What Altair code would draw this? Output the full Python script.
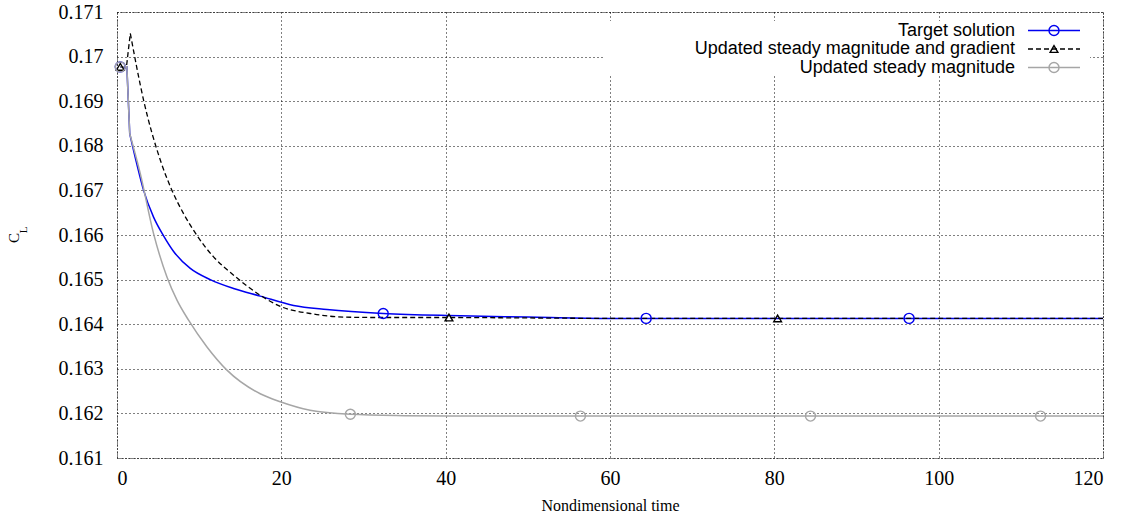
import altair as alt
import pandas as pd

# ---- series data -------------------------------------------------------
# Target solution: start-up part (plateau and sudden drop) and relaxation part
t_target_a = [0.4, 1.2, 1.55]
cl_target_a = [0.16977, 0.16977, 0.16827]
t_target_b = [1.55, 2.4, 3.24, 4.45, 5.67, 6.89, 8.92, 11.35, 14.19,
              17.43, 21.49, 25.55, 32.4, 41.8, 50.0, 58.8, 70.0, 90.0, 120.0]
cl_target_b = [0.16827, 0.16760, 0.16700, 0.16640, 0.16598, 0.16563,
               0.16525, 0.16500, 0.16480, 0.16463, 0.16442, 0.16433,
               0.16424, 0.16419, 0.16416, 0.16413, 0.16413, 0.16413, 0.16413]
mk_t_target = [0.4, 32.4, 64.4, 96.4]
mk_cl_target = [0.16977, 0.16424, 0.16413, 0.16413]

# Updated steady magnitude and gradient: overshoot, then relaxation
t_grad_a = [0.4, 1.15, 1.62]
cl_grad_a = [0.16977, 0.16977, 0.17052]
t_grad_b = [1.62, 3.24, 5.27, 6.69, 8.1, 9.73, 11.75, 14.19, 17.43,
            19.87, 23.5, 27.6, 32.0, 40.4, 50.0, 60.0, 120.0]
cl_grad_b = [0.17052, 0.16902, 0.16768, 0.16700, 0.16648, 0.16599, 0.16551,
             0.16510, 0.16465, 0.16440, 0.16424, 0.16416, 0.16415, 0.16415,
             0.16414, 0.16413, 0.16413]
mk_t_grad = [0.4, 40.4, 80.4]
mk_cl_grad = [0.16977, 0.16415, 0.16413]

# Updated steady magnitude
t_mag_a = [0.4, 1.2, 1.55]
cl_mag_a = [0.16977, 0.16977, 0.16827]
t_mag_b = [1.55, 2.83, 4.45, 6.08, 7.3, 8.71, 10.95, 13.38, 17.43,
           19.87, 23.5, 28.4, 35.0, 41.8, 60.0, 120.0]
cl_mag_b = [0.16827, 0.16738, 0.16603, 0.16506, 0.16454, 0.16409, 0.16349,
            0.16297, 0.16244, 0.16226, 0.16207, 0.16198, 0.16195, 0.16194,
            0.16194, 0.16194]
mk_t_mag = [0.4, 28.4, 56.4, 84.4, 112.4]
mk_cl_mag = [0.16977, 0.16198, 0.16194, 0.16194, 0.16194]

x_ticks = [0, 20, 40, 60, 80, 100, 120]
y_ticks = [0.161, 0.162, 0.163, 0.164, 0.165, 0.166, 0.167, 0.168, 0.169, 0.170, 0.171]

legend_labels = ["Target solution", "Updated steady magnitude and gradient",
                 "Updated steady magnitude"]

BLUE = "#0000f0"
BLACK = "#000000"
GRAY = "#a6a6a6"
SERIF = "Liberation Serif"
SANS = "Liberation Sans"

W, H = 986, 446

xs = alt.Scale(domain=[0, 120], nice=False, zero=False)
ys = alt.Scale(domain=[0.161, 0.171], nice=False, zero=False)

x_axis = alt.Axis(values=x_ticks, format="d", grid=True, gridColor="black",
                  gridDash=[1, 3], gridOpacity=1, domain=False, ticks=False,
                  labelFont=SERIF, labelFontSize=20, labelColor="black",
                  labelPadding=10, title="Nondimensional time",
                  titleFont=SERIF, titleFontSize=16, titleFontWeight="normal",
                  titleColor="black", titlePadding=9)
y_axis = alt.Axis(values=y_ticks, format=".3~f", grid=True, gridColor="black",
                  gridDash=[1, 3], gridOpacity=1, domain=False, ticks=False,
                  labelFont=SERIF, labelFontSize=20, labelColor="black",
                  labelPadding=14, title=None)

X = alt.X("t:Q", scale=xs, axis=x_axis)
Y = alt.Y("cl:Q", scale=ys, axis=y_axis)


def line_layer(t, v, color, width, dash=None, interp="linear"):
    df = pd.DataFrame({"t": t, "cl": v})
    kw = dict(color=color, strokeWidth=width, clip=True, interpolate=interp)
    if dash:
        kw["strokeDash"] = dash
    return alt.Chart(df).mark_line(**kw).encode(x=X, y=Y)


def marker_layer(t, v, color, shape, size):
    df = pd.DataFrame({"t": t, "cl": v})
    return alt.Chart(df).mark_point(shape=shape, filled=False, color=color,
                                    size=size, strokeWidth=1.4, opacity=1).encode(x=X, y=Y)


DASH = [5, 3]
layers = [
    line_layer(t_target_a, cl_target_a, BLUE, 1.5),
    line_layer(t_target_b, cl_target_b, BLUE, 1.5, interp="monotone"),
    line_layer(t_grad_a, cl_grad_a, BLACK, 1.3, dash=DASH),
    line_layer(t_grad_b, cl_grad_b, BLACK, 1.3, dash=DASH, interp="monotone"),
    line_layer(t_mag_a, cl_mag_a, GRAY, 1.5),
    line_layer(t_mag_b, cl_mag_b, GRAY, 1.5, interp="monotone"),
    marker_layer(mk_t_target, mk_cl_target, BLUE, "circle", 100),
    marker_layer(mk_t_grad, mk_cl_grad, BLACK, "triangle-up", 60),
    marker_layer(mk_t_mag, mk_cl_mag, GRAY, "circle", 100),
]

# ---- key box (top right, opaque) -----------------------------------------
one = pd.DataFrame({"k": [0]})
layers.append(alt.Chart(one).mark_rect(color="white").encode(
    x=alt.value(486), x2=alt.value(973), y=alt.value(9), y2=alt.value(64)))

key_rows = [18.5, 37.0, 55.5]
key_styles = [(BLUE, None, "circle", 100), (BLACK, DASH, "triangle-up", 60),
              (GRAY, None, "circle", 100)]
for label, yrow, (col, dash, shape, size) in zip(legend_labels, key_rows, key_styles):
    layers.append(alt.Chart(one).mark_text(
        text=label, font=SANS, fontSize=18, align="right", baseline="middle",
        color="black").encode(x=alt.value(898), y=alt.value(yrow)))
    rkw = dict(color=col, strokeWidth=1.4 if col != BLACK else 1.3)
    if dash:
        rkw["strokeDash"] = dash
    layers.append(alt.Chart(one).mark_rule(**rkw).encode(
        x=alt.value(911), x2=alt.value(963), y=alt.value(yrow)))
    layers.append(alt.Chart(one).mark_point(
        shape=shape, filled=False, color=col, size=size, strokeWidth=1.4,
        opacity=1).encode(x=alt.value(937), y=alt.value(yrow)))

# ---- y-axis title: C with subscript L -------------------------------------
layers.append(alt.Chart(one).mark_text(
    text="C", font=SERIF, fontSize=15, angle=270, align="center",
    baseline="middle", color="black").encode(x=alt.value(-103), y=alt.value(226)))
layers.append(alt.Chart(one).mark_text(
    text="L", font=SERIF, fontSize=11, angle=270, align="center",
    baseline="middle", color="black").encode(x=alt.value(-93), y=alt.value(218)))

chart = alt.layer(*layers).properties(
    width=W, height=H,
    autosize=alt.AutoSizeParams(type="none"),
    padding={"left": 117, "top": 12, "right": 25, "bottom": 59},
    background="white",
).configure_view(stroke="black", strokeDash=[1, 2], strokeWidth=1)

chart.save("out.html", embed_options={"renderer": "svg", "actions": False})
